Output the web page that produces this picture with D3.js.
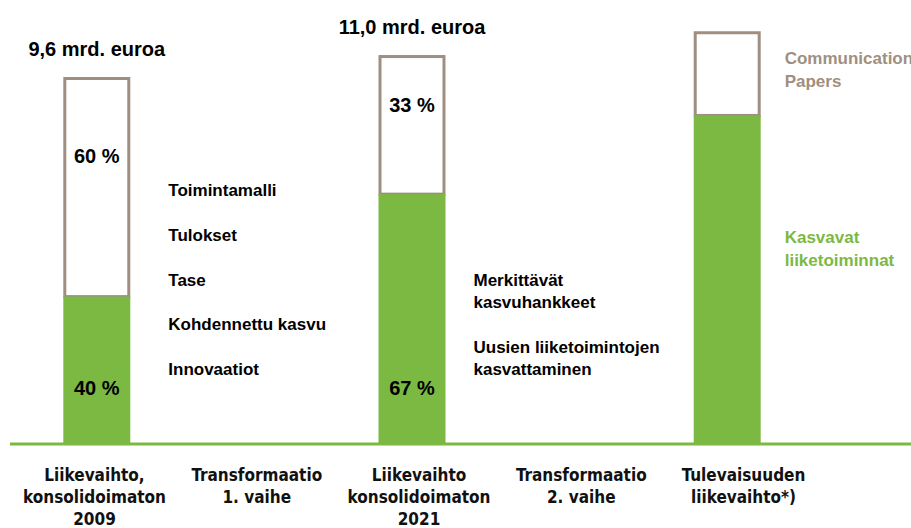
<!DOCTYPE html>
<html>
<head>
<meta charset="utf-8">
<script src="https://cdn.jsdelivr.net/npm/d3@7"></script>
<style>
  body { margin: 0; background: #fff; }
  svg { display: block; font-family: "Liberation Sans", Arial, sans-serif; }
</style>
</head>
<body>
<div id="root"></div>
<script>
// categories along the x axis (bars and the two transformation phases)
var categories = ['2009', 'phase1', '2021', 'phase2', 'future'];
var tickLabels = [
  ['Liikevaihto,', 'konsolidoimaton', '2009'],
  ['Transformaatio', '1. vaihe'],
  ['Liikevaihto', 'konsolidoimaton', '2021'],
  ['Transformaatio', '2. vaihe'],
  ['Tulevaisuuden', 'liikevaihto*)']
];

// bars (heights as drawn, relative units)
var barCategories = ['2009', '2021', 'future'];
var greenValues = [40, 68, 89.5];
var whiteValues = [60, 38, 23];
var whiteLabels = ['60 %', '33 %', ''];
var greenLabels = ['40 %', '67 %', ''];
var totalLabels = ['9,6 mrd. euroa', '11,0 mrd. euroa', ''];

// annotation texts
var phase1Items = ['Toimintamalli', 'Tulokset', 'Tase', 'Kohdennettu kasvu', 'Innovaatiot'];
var phase2Items = [['Merkittävät', 'kasvuhankkeet'], ['Uusien liiketoimintojen', 'kasvattaminen']];
var legendPapers = ['Communication', 'Papers'];
var legendGrowth = ['Kasvavat', 'liiketoiminnat'];

var green = '#7bb943',
  brown = '#a08f80';

var width = 911, height = 528;

var svg = d3.select('#root')
  .append('svg')
    .attr('width', width)
    .attr('height', height);

var yScale = d3.scaleLinear()
  .domain([0, 100])
  .range([443, 77]);

var xScale = d3.scaleBand()
  .domain(categories)
  .range([18, 806])
  .paddingInner(0.575)
  .paddingOuter(0.2875);

var labelScale = d3.scalePoint()
  .domain(categories)
  .range([94, 743]);

var bars = barCategories.map((c, i) => ({
  cat: c,
  green: greenValues[i],
  white: whiteValues[i],
  whiteLabel: whiteLabels[i],
  greenLabel: greenLabels[i],
  total: totalLabels[i]
}));

var bw = xScale.bandwidth();

// white (outlined) part
svg.selectAll('rect.white')
  .data(bars)
  .enter()
  .append('rect')
    .attr('class', 'white')
    .attr('x', d => xScale(d.cat) + 1.5)
    .attr('y', d => yScale(d.green + d.white) + 1.5)
    .attr('width', bw - 3)
    .attr('height', d => yScale(d.green) - yScale(d.green + d.white) - 1.5)
    .attr('fill', '#fff')
    .attr('stroke', brown)
    .attr('stroke-width', 3);

// green part
svg.selectAll('rect.green')
  .data(bars)
  .enter()
  .append('rect')
    .attr('class', 'green')
    .attr('x', d => xScale(d.cat))
    .attr('y', d => yScale(d.green))
    .attr('width', bw)
    .attr('height', d => yScale(0) - yScale(d.green))
    .attr('fill', green);

// baseline
svg.append('line')
  .attr('x1', 10)
  .attr('x2', width)
  .attr('y1', yScale(0) + 1)
  .attr('y2', yScale(0) + 1)
  .attr('stroke', green)
  .attr('stroke-width', 3);

// percentage labels
svg.selectAll('text.wl')
  .data(bars)
  .enter()
  .append('text')
    .attr('class', 'wl')
    .attr('x', d => xScale(d.cat) + bw / 2)
    .attr('y', d => {
      var top = yScale(d.green + d.white), bottom = yScale(d.green);
      return top + 0.36 * (bottom - top) + 7;
    })
    .attr('text-anchor', 'middle')
    .attr('font-size', '20px')
    .attr('font-weight', 'bold')
    .text(d => d.whiteLabel);

svg.selectAll('text.gl')
  .data(bars)
  .enter()
  .append('text')
    .attr('class', 'gl')
    .attr('x', d => xScale(d.cat) + bw / 2)
    .attr('y', yScale(15) + 7)
    .attr('text-anchor', 'middle')
    .attr('font-size', '20px')
    .attr('font-weight', 'bold')
    .text(d => d.greenLabel);

// totals above bars
svg.selectAll('text.total')
  .data(bars)
  .enter()
  .append('text')
    .attr('class', 'total')
    .attr('x', d => xScale(d.cat) + bw / 2)
    .attr('y', d => yScale(d.green + d.white) - 21)
    .attr('text-anchor', 'middle')
    .attr('font-size', '20px')
    .attr('font-weight', 'bold')
    .text(d => d.total);

// x axis labels
var xAxis = svg.append('g')
  .attr('class', 'x-axis')
  .attr('transform', 'translate(0, ' + (yScale(0) + 38) + ')')
  .call(d3.axisBottom(labelScale).tickSize(0).tickFormat(''));

xAxis.select('.domain').remove();

xAxis.selectAll('.tick text')
  .attr('font-family', '"Liberation Sans Narrow", "DejaVu Sans Condensed", sans-serif')
  .attr('font-size', '17px')
  .attr('font-weight', 'bold')
  .attr('fill', '#111')
  .attr('dy', 0)
  .attr('y', 0)
  .each(function(d, i) {
    var t = d3.select(this);
    tickLabels[i].forEach((line, j) => {
      t.append('tspan')
        .attr('x', 0)
        .attr('y', j * 22)
        .text(line);
    });
  });

// phase 1 items
var p1x = xScale('2009') + bw + 38;
svg.selectAll('text.p1')
  .data(phase1Items)
  .enter()
  .append('text')
    .attr('class', 'p1')
    .attr('x', p1x)
    .attr('y', (d, i) => 196 + i * 44.8)
    .attr('font-size', '17px')
    .attr('font-weight', 'bold')
    .text(d => d);

// phase 2 items
var p2x = xScale('2021') + bw + 28;
var p2 = svg.selectAll('text.p2')
  .data(phase2Items)
  .enter()
  .append('text')
    .attr('class', 'p2')
    .attr('font-size', '17px')
    .attr('font-weight', 'bold');

p2.selectAll('tspan')
  .data((d, i) => d.map(line => ({ line: line, i: i })))
  .enter()
  .append('tspan')
    .attr('x', p2x)
    .attr('y', (d, j) => 286 + d.i * 67 + j * 22)
    .text(d => d.line);

// right-side legend texts
var lx = xScale('future') + bw + 24;
var legend = [
  { lines: legendPapers, color: brown, y: 64 },
  { lines: legendGrowth, color: green, y: 243 }
];
legend.forEach(l => {
  var t = svg.append('text')
    .attr('font-size', '17px')
    .attr('font-weight', 'bold')
    .attr('fill', l.color);
  l.lines.forEach((line, j) => {
    t.append('tspan')
      .attr('x', lx)
      .attr('y', l.y + j * 23)
      .text(line);
  });
});
</script>
</body>
</html>
